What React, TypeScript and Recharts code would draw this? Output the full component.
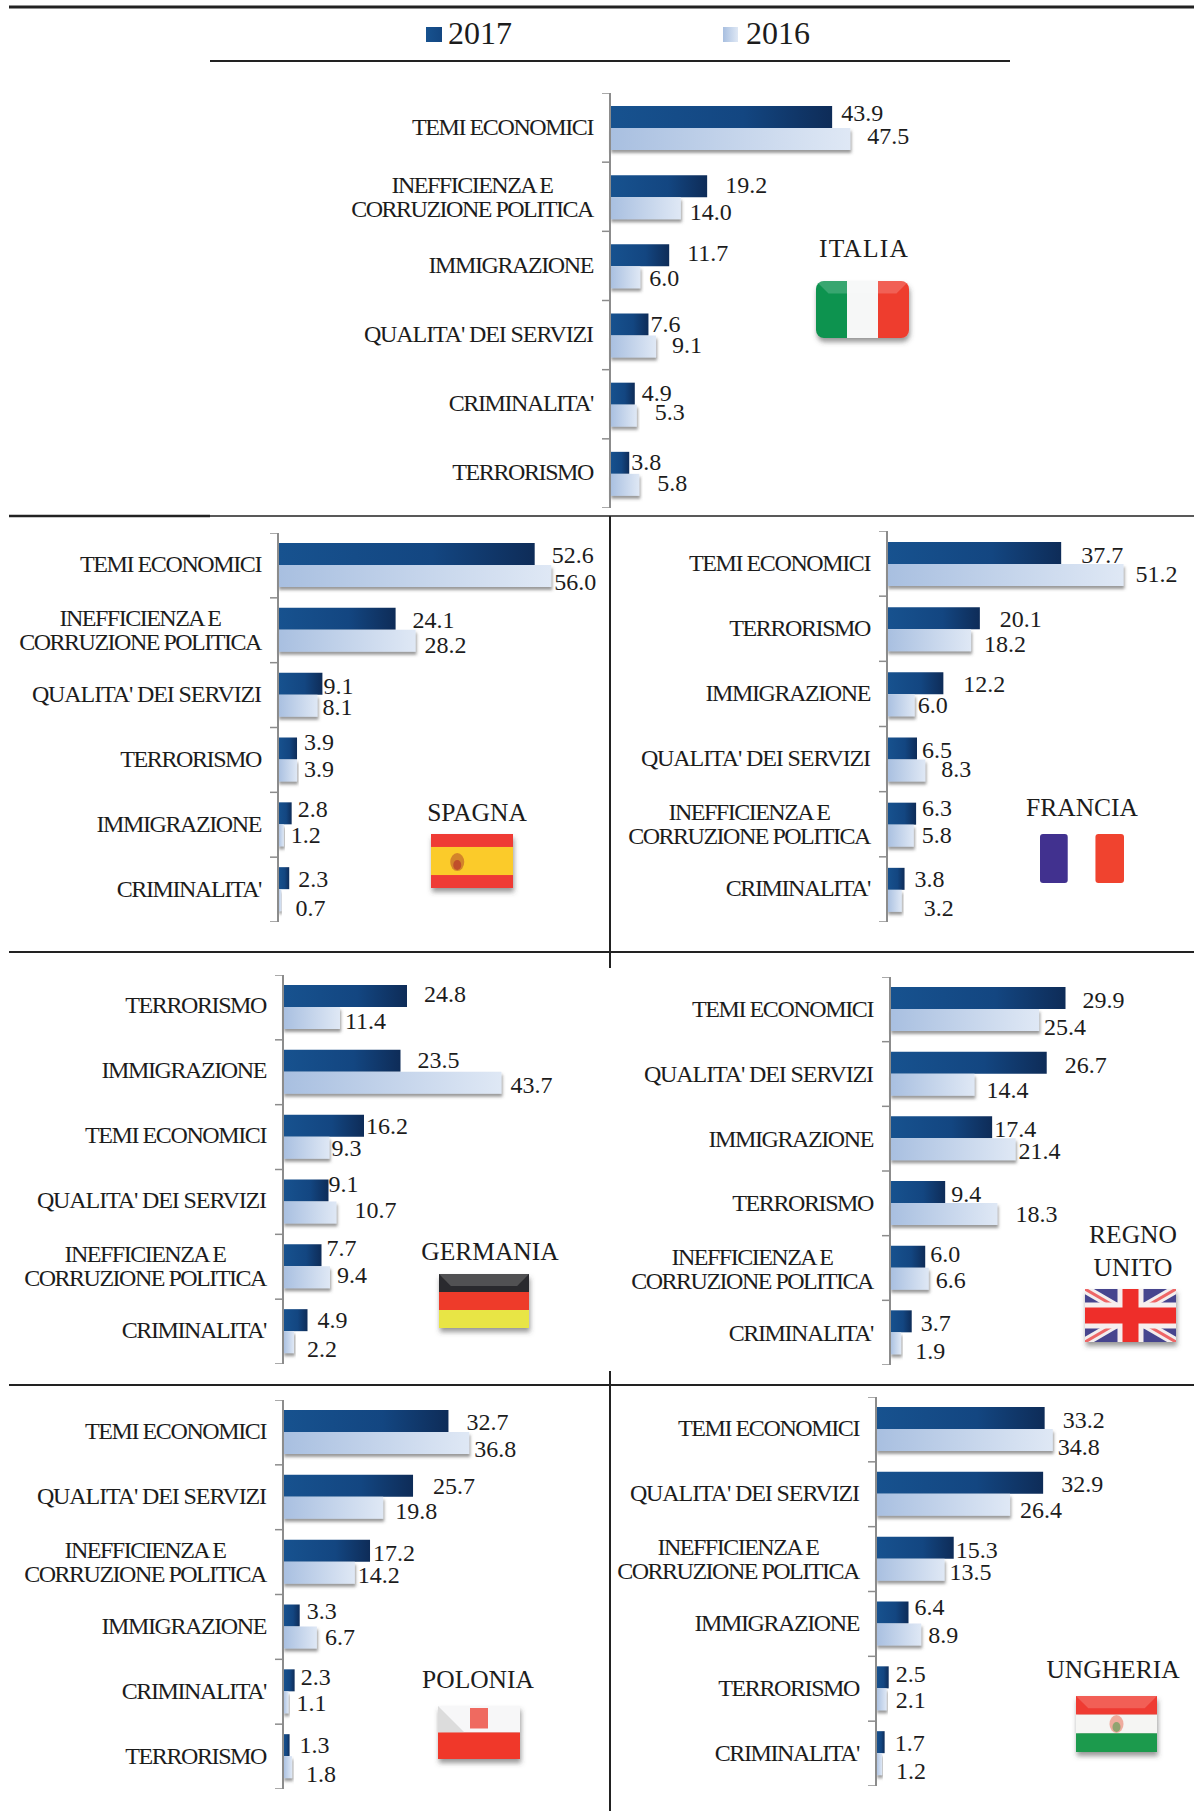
import React from 'react';
import { Bar, BarChart, LabelList, XAxis, YAxis } from 'recharts';

const SERIES = ['2017', '2016'];

const TEMI = 'TEMI ECONOMICI';
const INEFF = 'INEFFICIENZA E CORRUZIONE POLITICA';
const IMMI = 'IMMIGRAZIONE';
const QUAL = "QUALITA' DEI SERVIZI";
const CRIM = "CRIMINALITA'";
const TERR = 'TERRORISMO';

const italiaCats = [TEMI, INEFF, IMMI, QUAL, CRIM, TERR];
const italia2017 = [43.9, 19.2, 11.7, 7.6, 4.9, 3.8];
const italia2016 = [47.5, 14.0, 6.0, 9.1, 5.3, 5.8];

const spagnaCats = [TEMI, INEFF, QUAL, TERR, IMMI, CRIM];
const spagna2017 = [52.6, 24.1, 9.1, 3.9, 2.8, 2.3];
const spagna2016 = [56.0, 28.2, 8.1, 3.9, 1.2, 0.7];

const franciaCats = [TEMI, TERR, IMMI, QUAL, INEFF, CRIM];
const francia2017 = [37.7, 20.1, 12.2, 6.5, 6.3, 3.8];
const francia2016 = [51.2, 18.2, 6.0, 8.3, 5.8, 3.2];

const germaniaCats = [TERR, IMMI, TEMI, QUAL, INEFF, CRIM];
const germania2017 = [24.8, 23.5, 16.2, 9.1, 7.7, 4.9];
const germania2016 = [11.4, 43.7, 9.3, 10.7, 9.4, 2.2];

const regnoCats = [TEMI, QUAL, IMMI, TERR, INEFF, CRIM];
const regno2017 = [29.9, 26.7, 17.4, 9.4, 6.0, 3.7];
const regno2016 = [25.4, 14.4, 21.4, 18.3, 6.6, 1.9];

const poloniaCats = [TEMI, QUAL, INEFF, IMMI, CRIM, TERR];
const polonia2017 = [32.7, 25.7, 17.2, 3.3, 2.3, 1.3];
const polonia2016 = [36.8, 19.8, 14.2, 6.7, 1.1, 1.8];

const ungheriaCats = [TEMI, QUAL, INEFF, IMMI, TERR, CRIM];
const ungheria2017 = [33.2, 32.9, 15.3, 6.4, 2.5, 1.7];
const ungheria2016 = [34.8, 26.4, 13.5, 8.9, 2.1, 1.2];

// the value labels were hand placed in the original, so each one gets a nudge
const panels = [
  { id: 'it', cats: italiaCats, a: italia2017, b: italia2016, axisX: 610, top: 93, bottom: 508, perUnit: 5.06, plotW: 570, catDy: 1,
    dxA: [9, 18, 18, 2, 7, 2], dxB: [17, 9, 9, 16, 18, 18],
    dyA: [-4, -1, -2, -1, -1, -1], dyB: [-3, 4, 1, -2, -4, -2] },
  { id: 'es', cats: spagnaCats, a: spagna2017, b: spagna2016, axisX: 278, top: 533, bottom: 922, perUnit: 4.88, plotW: 325, catDy: 1,
    dxA: [17, 17, 1, 7, 6, 9], dxB: [3, 9, 5, 7, 7, 14],
    dyA: [1, 1, 2, -7, -4, 1], dyB: [6, 4, 1, -2, 0, 8] },
  { id: 'fr', cats: franciaCats, a: francia2017, b: francia2016, axisX: 887, top: 531, bottom: 922, perUnit: 4.62, plotW: 300, catDy: 1,
    dxA: [20, 20, 20, 5, 6, 10], dxB: [12, 13, 3, 16, 8, 22],
    dyA: [2, 1, 1, 1, -6, 0], dyB: [-1, 4, 0, -2, -1, 7] },
  { id: 'de', cats: germaniaCats, a: germania2017, b: germania2016, axisX: 283, top: 975, bottom: 1364, perUnit: 5.0, plotW: 320, catDy: 0,
    dxA: [17, 17, 2, 0, 5, 10], dxB: [5, 9, 2, 18, 7, 13],
    dyA: [-2, -1, 0, -7, -7, 0], dyB: [3, 2, 0, -3, -2, 7] },
  { id: 'uk', cats: regnoCats, a: regno2017, b: regno2016, axisX: 890, top: 977, bottom: 1365, perUnit: 5.87, plotW: 300, catDy: 2,
    dxA: [17, 18, 2, 6, 5, 9], dxB: [5, 12, 3, 18, 7, 14],
    dyA: [2, 2, 2, 2, -3, 2], dyB: [7, 5, 2, 0, 1, 8] },
  { id: 'pl', cats: poloniaCats, a: polonia2017, b: polonia2016, axisX: 283, top: 1400, bottom: 1789, perUnit: 5.06, plotW: 320, catDy: 1,
    dxA: [18, 20, 3, 7, 6, 10], dxB: [5, 12, 3, 8, 8, 14],
    dyA: [1, 0, 2, -5, -3, 0], dyB: [6, 3, 2, -1, 1, 7] },
  { id: 'hu', cats: ungheriaCats, a: ungheria2017, b: ungheria2016, axisX: 876, top: 1397, bottom: 1786, perUnit: 5.08, plotW: 310, catDy: 1,
    dxA: [18, 18, 2, 6, 7, 10], dxB: [5, 10, 5, 7, 9, 14],
    dyA: [2, 1, 2, -6, -3, 1], dyB: [7, 5, 2, 0, 1, 7] },
];

const FONT = '"Liberation Serif", serif';
const INK = '#1c1c1c';
const Y_AXIS_W = 270;

function makeTick(band: number, count: number, catDy: number) {
  return function CategoryTick({ x, y, payload, index }: any) {
    const label: string = payload.value;
    const common = { fill: INK, fontFamily: FONT, fontSize: 24, letterSpacing: label === QUAL ? -1.1 : -1.4 };
    const last = index === count - 1;
    return (
      <g>
        <line x1={x - 8} x2={x} y1={y - band / 2} y2={y - band / 2} stroke="#8c8c8c" strokeWidth={1.5} />
        {last && <line x1={x - 8} x2={x} y1={y + band / 2} y2={y + band / 2} stroke="#8c8c8c" strokeWidth={1.5} />}
        {label === INEFF ? (
          <text {...common} letterSpacing={-1.5} textAnchor="middle">
            <tspan x={x - 138} y={y - 5 + catDy}>INEFFICIENZA E</tspan>
            <tspan x={x - 138} y={y + 19 + catDy}>CORRUZIONE POLITICA</tspan>
          </text>
        ) : (
          <text {...common} x={x - 17} y={y + 6 + catDy} textAnchor="end">{label}</text>
        )}
      </g>
    );
  };
}

function makeValueLabel(dx: number[], dy: number[]) {
  return function ValueLabel({ x, y, width, height, value, index }: any) {
    return (
      <text
        x={x + width + dx[index]}
        y={y + height / 2 + dy[index] + 8}
        fill={INK}
        fontFamily={FONT}
        fontSize={24}
      >
        {Number(value).toFixed(1)}
      </text>
    );
  };
}

function Panel({ p }: { p: (typeof panels)[number] }) {
  const height = p.bottom - p.top;
  const data = p.cats.map((name, i) => ({ name, a: p.a[i], b: p.b[i] }));
  const Tick = makeTick(height / p.cats.length, p.cats.length, p.catDy);
  return (
    <div style={{ position: 'absolute', left: p.axisX - Y_AXIS_W, top: p.top }}>
      <BarChart
        width={Y_AXIS_W + p.plotW}
        height={height}
        data={data}
        layout="vertical"
        margin={{ top: 0, right: 0, bottom: 0, left: 0 }}
        barGap={0}
        barSize={22}
      >
        <defs>
          <linearGradient id={`${p.id}-dark`} x1="0" y1="0" x2="1" y2="0">
            <stop offset="0%" stopColor="#17528f" />
            <stop offset="60%" stopColor="#134681" />
            <stop offset="100%" stopColor="#0e2c58" />
          </linearGradient>
          <linearGradient id={`${p.id}-light`} x1="0" y1="0" x2="1" y2="0">
            <stop offset="0%" stopColor="#a8bfe0" />
            <stop offset="100%" stopColor="#dfe8f5" />
          </linearGradient>
          <filter id={`${p.id}-shadow`} x="-5%" y="-20%" width="115%" height="150%">
            <feDropShadow dx="1" dy="3" stdDeviation="1.6" floodColor="#555" floodOpacity="0.6" />
          </filter>
        </defs>
        <XAxis type="number" hide domain={[0, p.plotW / p.perUnit]} />
        <YAxis
          type="category"
          dataKey="name"
          width={Y_AXIS_W}
          tick={Tick}
          tickLine={false}
          tickSize={0}
          tickMargin={0}
          interval={0}
          axisLine={{ stroke: '#8c8c8c', strokeWidth: 2 }}
        />
        <Bar dataKey="a" name={SERIES[0]} fill={`url(#${p.id}-dark)`} isAnimationActive={false}>
          <LabelList dataKey="a" content={makeValueLabel(p.dxA, p.dyA)} />
        </Bar>
        <Bar dataKey="b" name={SERIES[1]} fill={`url(#${p.id}-light)`} isAnimationActive={false} filter={`url(#${p.id}-shadow)`}>
          <LabelList dataKey="b" content={makeValueLabel(p.dxB, p.dyB)} />
        </Bar>
      </BarChart>
    </div>
  );
}

function Emblem({ x, y, c1, c2 }: any) {
  return (
    <g>
      <ellipse cx={x} cy={y} rx={7} ry={9} fill={c1} opacity={0.8} />
      <ellipse cx={x} cy={y + 3} rx={4} ry={5} fill={c2} opacity={0.7} />
    </g>
  );
}

function Stripes({ w, h, colors, vertical }: any) {
  return colors.map((c: string, i: number) =>
    vertical ? (
      <rect key={i} x={(i * w) / colors.length} y={0} width={w / colors.length} height={h} fill={c} />
    ) : (
      <rect key={i} x={0} y={(i * h) / colors.length} width={w} height={h / colors.length} fill={c} />
    ),
  );
}

function Gloss({ w, h }: any) {
  const d = h * 0.22;
  return <polygon points={`0,0 ${w},0 ${w - d},${d} ${d},${d}`} fill="#fff" opacity={0.18} />;
}

function flagBody(kind: string, w: number, h: number) {
  switch (kind) {
    case 'it':
      return (
        <>
          <Stripes w={w} h={h} vertical colors={['#0d9350', '#f6f7f7', '#ee3d2f']} />
          <Gloss w={w} h={h} />
        </>
      );
    case 'es':
      return (
        <>
          <rect width={w} height={h} fill="#ef3b36" />
          <rect y={h * 0.24} width={w} height={h * 0.52} fill="#fbcb2c" />
          <Emblem x={w * 0.32} y={h * 0.52} c1="#c9732c" c2="#b8382e" />
        </>
      );
    case 'fr':
      return (
        <>
          <rect x={0} width={w * 0.33} height={h} rx={3} fill="#41318f" />
          <rect x={w * 0.66} width={w * 0.34} height={h} rx={3} fill="#f0432f" />
        </>
      );
    case 'de':
      return (
        <>
          <Stripes w={w} h={h} colors={['#2b2b2d', '#ee3b2b', '#e8e544']} />
          <Gloss w={w} h={h} />
        </>
      );
    case 'uk':
      return (
        <>
          <rect width={w} height={h} fill="#46458e" />
          <line x1={0} y1={0} x2={w} y2={h} stroke="#f3eeee" strokeWidth={9} />
          <line x1={w} y1={0} x2={0} y2={h} stroke="#f3eeee" strokeWidth={9} />
          <line x1={0} y1={0} x2={w} y2={h} stroke="#e66" strokeWidth={3} />
          <line x1={w} y1={0} x2={0} y2={h} stroke="#e66" strokeWidth={3} />
          <rect x={w / 2 - 13} width={26} height={h} fill="#f6eeee" />
          <rect y={h / 2 - 13} width={w} height={26} fill="#f6eeee" />
          <rect x={w / 2 - 8} width={16} height={h} fill="#ee2f2a" />
          <rect y={h / 2 - 8} width={w} height={16} fill="#ee2f2a" />
        </>
      );
    case 'pl':
      return (
        <>
          <rect width={w} height={h / 2} fill="#f7f7f8" />
          <polygon points={`0,0 ${h / 2},${h / 2} 0,${h / 2}`} fill="#dcdcdc" />
          <rect y={h / 2} width={w} height={h / 2} fill="#f0392b" />
          <rect x={w / 2 - 9} y={2} width={18} height={h / 2 - 6} fill="#ef6a60" />
        </>
      );
    default:
      return (
        <>
          <Stripes w={w} h={h} colors={['#ef3b33', '#f5f5f3', '#1f9a4d']} />
          <Emblem x={w * 0.5} y={h * 0.5} c1="#ee9a88" c2="#6aa05c" />
          <Gloss w={w} h={h} />
        </>
      );
  }
}

const flags = [
  { kind: 'it', x: 816, y: 281, w: 93, h: 57, rx: 8, names: ['ITALIA'], cx: 864, ny: [257], spacing: 1.2 },
  { kind: 'es', x: 431, y: 834, w: 82, h: 54, rx: 0, names: ['SPAGNA'], cx: 477, ny: [821], spacing: 0 },
  { kind: 'fr', x: 1040, y: 834, w: 84, h: 49, rx: 0, names: ['FRANCIA'], cx: 1082, ny: [816], spacing: 0 },
  { kind: 'de', x: 439, y: 1274, w: 90, h: 54, rx: 0, names: ['GERMANIA'], cx: 490, ny: [1260], spacing: 0 },
  { kind: 'uk', x: 1085, y: 1289, w: 91, h: 53, rx: 0, names: ['REGNO', 'UNITO'], cx: 1133, ny: [1243, 1276], spacing: 0 },
  { kind: 'pl', x: 438, y: 1706, w: 82, h: 53, rx: 0, names: ['POLONIA'], cx: 478, ny: [1688], spacing: 0 },
  { kind: 'hu', x: 1076, y: 1696, w: 81, h: 56, rx: 0, names: ['UNGHERIA'], cx: 1113, ny: [1678], spacing: 0 },
];

const frameLines = [
  { x1: 9, y1: 7, x2: 1194, y2: 7, w: 3 },
  { x1: 210, y1: 61, x2: 1010, y2: 61, w: 2 },
  { x1: 9, y1: 516, x2: 1194, y2: 516, w: 1.5 },
  { x1: 9, y1: 516, x2: 210, y2: 516, w: 2.5 },
  { x1: 610, y1: 516, x2: 610, y2: 968, w: 2 },
  { x1: 9, y1: 952, x2: 1194, y2: 952, w: 2 },
  { x1: 9, y1: 1385, x2: 1194, y2: 1385, w: 2 },
  { x1: 610, y1: 1371, x2: 610, y2: 1811, w: 2 },
];

function Overlay() {
  return (
    <svg width={1194} height={1811} style={{ position: 'absolute', left: 0, top: 0, pointerEvents: 'none' }}>
      <defs>
        <filter id="flag-shadow" x="-10%" y="-10%" width="125%" height="130%">
          <feDropShadow dx="1" dy="4" stdDeviation="2.5" floodColor="#444" floodOpacity="0.55" />
        </filter>
        <linearGradient id="legend-dark" x1="0" y1="0" x2="1" y2="0">
          <stop offset="0%" stopColor="#17528f" />
          <stop offset="100%" stopColor="#134681" />
        </linearGradient>
        <linearGradient id="legend-light" x1="0" y1="0" x2="1" y2="0">
          <stop offset="0%" stopColor="#a8bfe0" />
          <stop offset="100%" stopColor="#dfe8f5" />
        </linearGradient>
      </defs>
      {frameLines.map((l, i) => (
        <line key={i} x1={l.x1} y1={l.y1} x2={l.x2} y2={l.y2} stroke="#222" strokeWidth={l.w} />
      ))}
      <rect x={426} y={27} width={16} height={15} fill="url(#legend-dark)" />
      <text x={448} y={44} fontFamily={FONT} fontSize={32} fill={INK}>{SERIES[0]}</text>
      <rect x={723} y={27} width={15} height={15} fill="url(#legend-light)" />
      <text x={746} y={44} fontFamily={FONT} fontSize={32} fill={INK}>{SERIES[1]}</text>
      {flags.map((f) => (
        <g key={f.kind}>
          {f.names.map((n, i) => (
            <text key={n} x={f.cx} y={f.ny[i]} textAnchor="middle" fontFamily={FONT} fontSize={25.5} letterSpacing={f.spacing} fill={INK}>{n}</text>
          ))}
          <g transform={`translate(${f.x},${f.y})`} filter={f.kind === 'fr' ? undefined : 'url(#flag-shadow)'}>
            <clipPath id={`clip-${f.kind}`}>
              <rect width={f.w} height={f.h} rx={f.rx} />
            </clipPath>
            <g clipPath={`url(#clip-${f.kind})`}>{flagBody(f.kind, f.w, f.h)}</g>
          </g>
        </g>
      ))}
    </svg>
  );
}

export default function App() {
  return (
    <div style={{ position: 'absolute', left: 0, top: 0, width: 1194, height: 1811, background: '#fff', overflow: 'hidden' }}>
      {panels.map((p) => <Panel key={p.id} p={p} />)}
      <Overlay />
    </div>
  );
}
